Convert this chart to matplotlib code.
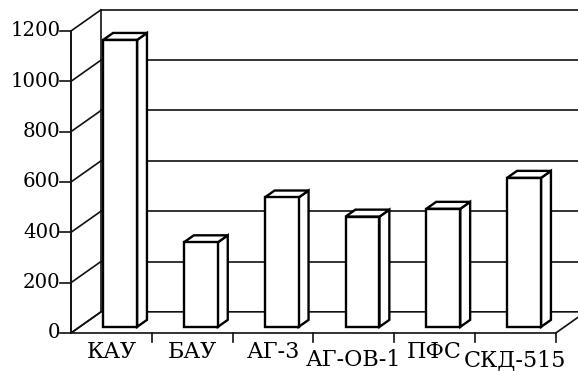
import matplotlib.pyplot as plt
from matplotlib.patches import Polygon

names = ['КАУ', 'БАУ', 'АГ-3', 'АГ-ОВ-1', 'ПФС', 'СКД-515']
values = [1140, 336, 514, 438, 469, 592]
yticks = [0, 200, 400, 600, 800, 1000, 1200]
label_row = [0, 0, 0, 1, 0, 1]  # long names sit a bit lower

# oblique offset of the back wall (x in categories, y in value units)
DX, DY = 0.371, 84
FONT = 'DejaVu Serif'


def proj(x, y, d):
    return x + DX * d, y + DY * d


fig = plt.figure(figsize=(5.78, 3.71), dpi=100)
ax = fig.add_axes([0, 0, 1, 1])
ax.set_xlim(-0.879, 6.275)
ax.set_ylim(-151, 1323)
ax.axis('off')

n = len(names)
ymax = yticks[-1]
lc = '#111111'

# floor
floor = [proj(0, 0, 0), proj(n, 0, 0), proj(n, 0, 1), proj(0, 0, 1)]
ax.add_patch(Polygon(floor, closed=True, fc='white', ec=lc, lw=1.2, zorder=1))

# back wall grid + left wall diagonals
for t in yticks:
    x0, y0 = proj(0, t, 1)
    ax.plot([x0, n + 2], [y0, y0], color=lc, lw=1.2, zorder=0.5)
    ax.plot([0, x0], [t, y0], color=lc, lw=1.2, zorder=2)
    ax.plot([-0.136, 0], [t, t], color=lc, lw=1.2, zorder=2)
    ax.text(-0.13, t, str(t), ha='right', va='center', fontsize=14.2,
            family=FONT, color='black')

bx, _ = proj(0, 0, 1)
ax.plot([bx, bx], [DY, ymax + DY], color=lc, lw=1.2, zorder=0.6)
ax.plot([0, 0], [0, ymax], color=lc, lw=1.4, zorder=2)

# category ticks under the floor
for k in range(1, n + 1):
    ax.plot([k, k], [0, -36], color=lc, lw=1.2, zorder=2)

# bars
w, d0, d1 = 0.42, 0.29, 0.62
for i, v in enumerate(values):
    left = i + 0.5 - w / 2
    right = i + 0.5 + w / 2
    front = [proj(left, 0, d0), proj(right, 0, d0), proj(right, v, d0), proj(left, v, d0)]
    top = [proj(left, v, d0), proj(right, v, d0), proj(right, v, d1), proj(left, v, d1)]
    side = [proj(right, 0, d0), proj(right, 0, d1), proj(right, v, d1), proj(right, v, d0)]
    for face in (side, top, front):
        ax.add_patch(Polygon(face, closed=True, fc='white', ec='black',
                             lw=1.7, joinstyle='miter', zorder=3 + i * 0.01))

# category labels
for i, name in enumerate(names):
    y = -77 if label_row[i] == 0 else -108
    ax.text(i + 0.5, y, name, ha='center', va='center', fontsize=16,
            family=FONT, color='black')

fig.savefig('out.png', dpi=100)
